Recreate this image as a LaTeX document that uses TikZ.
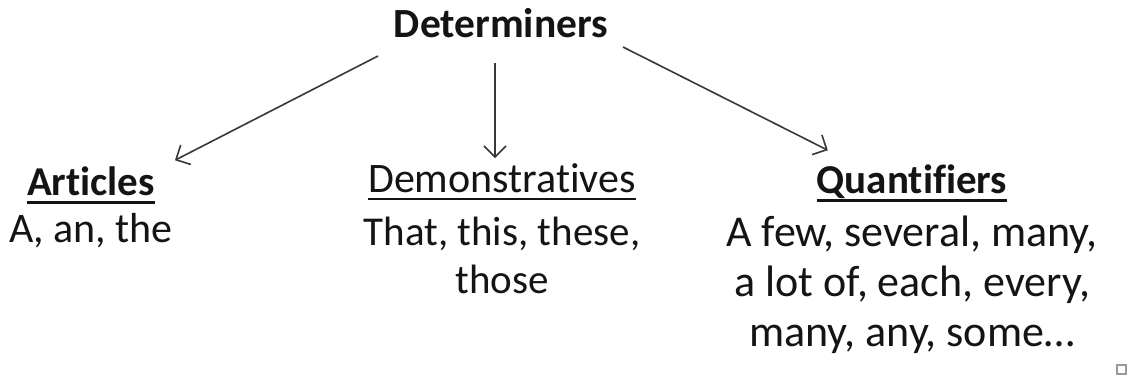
\documentclass[tikz,border=0pt]{standalone}
\usepackage{fontspec}
\setmainfont{Carlito}[Ligatures={NoCommon}]
\usetikzlibrary{arrows.meta}
\begin{document}
\begin{tikzpicture}[x=1pt,y=-1pt,
  txt/.style={inner sep=0pt, outer sep=0pt, text=black!92,
    font=\fontsize{41}{48}\selectfont, align=center, anchor=base},
  headb/.style={txt, font=\fontsize{41}{48}\selectfont\bfseries},
  uline/.style={line width=#1, black!92},
  link/.style={draw=black!78, line width=1.6pt,
    -{Straight Barb[length=11pt,width=22pt,line width=1.6pt]}},
  handle/.style={draw=black!40, line width=1.2pt}
]
\useasboundingbox[fill=white] (0,0) rectangle (1134,381);

% top node
\node[headb, font=\fontsize{41.5}{48}\selectfont\bfseries] (det) at (501,37) {Determiners};

% three categories: heading, then the list (anchored at its last baseline)
\node[headb] (art) at (91,195) {Articles};
\node[txt, font=\fontsize{42}{48}\selectfont] (artx) at (91,242) {A, an, the};

\node[txt, font=\fontsize{42}{48}\selectfont] (dem) at (502,192) {Demonstratives};
\node[txt] (demx) at (502,293) {That, this, these,\\ those};

\node[headb] (qua) at (912,193) {Quantifiers};
\node[txt, font=\fontsize{44}{50}\selectfont] (quax) at (912,346) {A few, several, many,\\ a lot of, each, every,\\ many, any, some\dots};

% underlines
\draw[uline=3pt] ([yshift=-7pt]art.base west) -- ([yshift=-7pt]art.base east);
\draw[uline=2pt] ([yshift=-7pt]dem.base west) -- ([yshift=-7pt]dem.base east);
\draw[uline=3pt] ([yshift=-7pt]qua.base west) -- ([yshift=-7pt]qua.base east);

% arrows from the top node to each category
\coordinate (s1) at (378,56);
\coordinate (s2) at (495,63);
\coordinate (s3) at (623,47);
\draw[link] (s1) -- ([xshift=20pt,yshift=6pt]art.north east);
\draw[link] (s2) -- ([yshift=5pt]dem.north -| s2);
\draw[link] (s3) -- ([xshift=11pt,yshift=14pt]qua.north west);

% small square in the corner
\draw[handle] (1117,365) rectangle (1126,374);
\end{tikzpicture}
\end{document}
